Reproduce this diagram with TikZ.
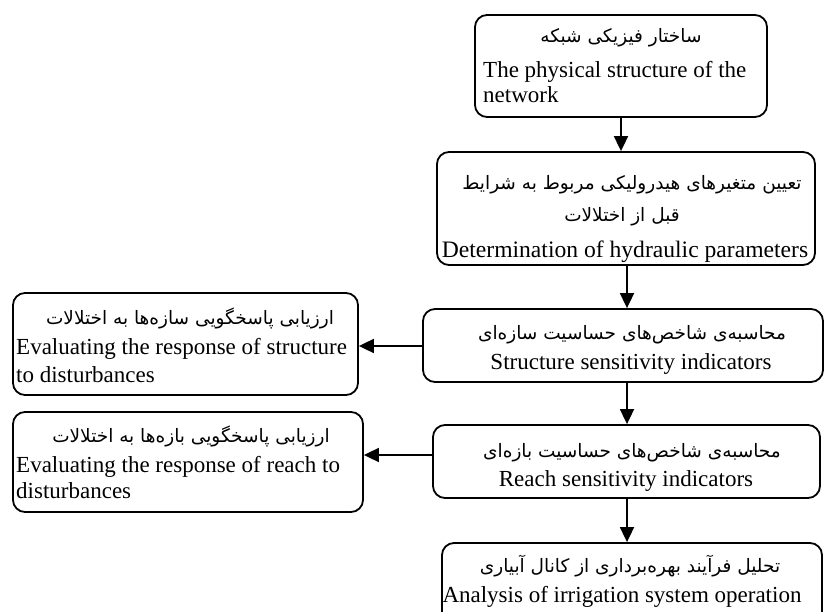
\documentclass[tikz,border=0pt]{standalone}
\usepackage{fontspec}
\setmainfont{Liberation Serif}
\newfontfamily\fa[Script=Arabic]{DejaVu Sans}
\TeXXeTstate=1
\usetikzlibrary{arrows.meta}
\begin{document}
\begin{tikzpicture}[x=1pt,y=-1pt,
  box/.style={draw, line width=1.8pt, rounded corners=12pt, inner sep=0pt},
  arr/.style={line width=1.8pt, -{Triangle[length=15pt,width=14pt]}},
  en/.style={font=\fontsize{23}{27}\selectfont, anchor=base, inner sep=0pt},
  enl/.style={en, anchor=base west},
  fa/.style={font=\fontsize{18.5}{22}\fa, anchor=base, inner sep=0pt}]
\useasboundingbox (0,0) rectangle (825,612);
% boxes
\node[box, minimum width=292pt, minimum height=102pt] (b1) at (621,66) {};
\node[box, minimum width=378pt, minimum height=113pt] (b2) at (626,208.5) {};
\node[box, minimum width=400pt, minimum height=73pt] (b3) at (623,345.5) {};
\node[box, minimum width=345pt, minimum height=102pt] (l3) at (185.5,344) {};
\node[box, minimum width=387pt, minimum height=73pt] (b4) at (626.5,461.5) {};
\node[box, minimum width=350pt, minimum height=100pt] (l4) at (188,462) {};
\node[box, minimum width=380pt, minimum height=84pt] (b5) at (632,585) {};
% texts
\node[fa] (t1a) at (621,43) {\beginR ساختار فیزیکی شبکه\endR};
\node[enl] (t1b) at (483,78) {The physical structure of the};
\node[enl] (t1c) at (483,103) {network};
\node[fa] (t2a) at (632,190) {\beginR تعیین متغیرهای هیدرولیکی مربوط به شرایط\endR};
\node[fa] (t2b) at (622,222) {\beginR قبل از اختلالات\endR};
\node[en, font=\fontsize{23.6}{27}\selectfont] (t2c) at (625,258) {Determination of hydraulic parameters};
\node[fa] (t3a) at (632,340) {\beginR محاسبه‌ی شاخص‌های حساسیت سازه‌ای\endR};
\node[en] (t3b) at (631,370) {Structure sensitivity indicators};
\node[fa] (s3a) at (190,325) {\beginR ارزیابی پاسخگویی سازه‌ها به اختلالات\endR};
\node[enl] (s3b) at (16,355) {Evaluating the response of structure};
\node[enl] (s3c) at (16,382) {to disturbances};
\node[fa] (t4a) at (632,457) {\beginR محاسبه‌ی شاخص‌های حساسیت بازه‌ای\endR};
\node[en] (t4b) at (626,486) {Reach sensitivity indicators};
\node[fa] (s4a) at (191,442) {\beginR ارزیابی پاسخگویی بازه‌ها به اختلالات\endR};
\node[enl] (s4b) at (16,472) {Evaluating the response of reach to};
\node[enl] (s4c) at (16,498) {disturbances};
\node[fa] (t5a) at (630,572) {\beginR تحلیل فرآیند بهره‌برداری از کانال آبیاری\endR};
\node[en] (t5b) at (622,602) {Analysis of irrigation system operation};
% connectors
\coordinate (xa) at (621,0);
\coordinate (xb) at (627,0);
\coordinate (yb) at (0,346);
\coordinate (ya) at (0,455);
\draw[arr] (b1.south -| xa) -- (b2.north -| xa);
\draw[arr] (b2.south -| xb) -- (b3.north -| xb);
\draw[arr] (b3.south -| xb) -- (b4.north -| xb);
\draw[arr] (b4.south -| xb) -- (b5.north -| xb);
\draw[arr] (b3.west |- yb) -- (l3.east |- yb);
\draw[arr] (b4.west |- ya) -- (l4.east |- ya);
\end{tikzpicture}
\end{document}
